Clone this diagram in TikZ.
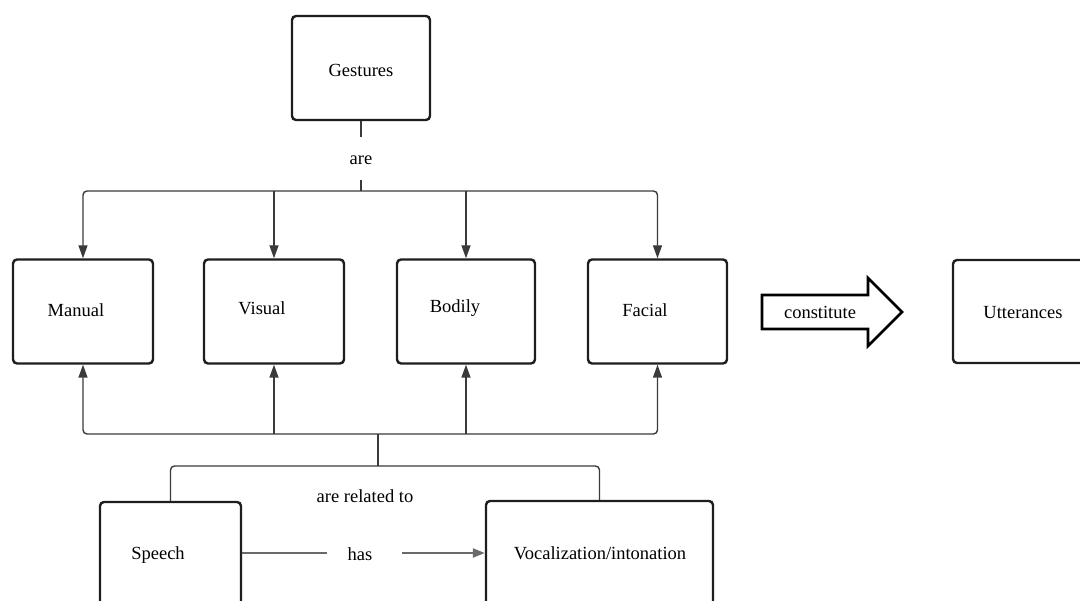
\documentclass[tikz,border=0pt]{standalone}
\usepackage{fontspec}
\setmainfont{Liberation Serif}
\usetikzlibrary{arrows.meta}
\definecolor{boxc}{HTML}{1E1E1E}
\definecolor{linec}{HTML}{3A3A3A}
\definecolor{hasc}{HTML}{6A6A6A}
\begin{document}
\begin{tikzpicture}[x=1pt,y=-1pt,
  box/.style={draw=boxc, line width=2.4pt, rounded corners=4pt, fill=white, inner sep=0pt},
  txt/.style={inner sep=0pt, font=\fontsize{18.5}{22}\selectfont, text=black},
  conn/.style={draw=linec, line width=1.4pt},
  tipend/.style={-{Triangle[length=13pt,width=9pt]}},
  tipboth/.style={{Triangle[length=13pt,width=9pt]}-{Triangle[length=13pt,width=9pt]}},
  hasline/.style={draw=hasc, line width=2.2pt},
  bigarrow/.style={draw=black, line width=2.6pt, fill=white, line join=miter}
]
\useasboundingbox (0,0) rectangle (1080,601);
\clip (0,0) rectangle (1080,601);

% boxes
\node[box, minimum width=138pt, minimum height=104pt] (gestures) at (361,68) {};
\node[box, minimum width=140pt, minimum height=104pt] (manual) at (83,311.5) {};
\node[box, minimum width=140pt, minimum height=104pt] (visual) at (274,311.5) {};
\node[box, minimum width=138pt, minimum height=104pt] (bodily) at (466,311.5) {};
\node[box, minimum width=139pt, minimum height=104pt] (facial) at (657.5,311.5) {};
\node[box, minimum width=147pt, minimum height=103pt] (utter) at (1026.5,311.5) {};
\node[box, minimum width=141pt, minimum height=138pt] (speech) at (170.5,571) {};
\node[box, minimum width=227pt, minimum height=139pt] (voc) at (599.5,570.5) {};

% texts
\node[txt] (gestures-t) at (361,70) {Gestures};
\node[txt] (manual-t) at (76,310) {Manual};
\node[txt] (visual-t) at (262,308) {Visual};
\node[txt] (bodily-t) at (455,308) {Bodily};
\node[txt] (facial-t) at (645,310) {Facial};
\node[txt] (utter-t) at (1023,313) {Utterances};
\node[txt] (speech-t) at (158,555) {Speech};
\node[txt] (voc-t) at (600,553) {Vocalization/intonation};
\node[txt] (are) at (361,160) {are};
\node[txt] (related) at (365,496) {are related to};
\node[txt] (has) at (360,554) {has};

% coordinates
\coordinate (are-top) at (361,137);
\coordinate (are-bot) at (361,180);
\coordinate (bus-top) at (361,191);
\coordinate (junc) at (378,434);
\coordinate (junc2) at (378,466);
\coordinate (has-a) at (327,553);
\coordinate (has-b) at (402,553);

% upper connectors
\draw[conn] (gestures.south) -- (are-top);
\draw[conn] (are-bot) -- (bus-top);
\draw[conn, rounded corners=4pt, tipboth] (manual.north) |- (bus-top) -| (facial.north);
\draw[conn, tipend] (visual.north |- bus-top) -- (visual.north);
\draw[conn, tipend] (bodily.north |- bus-top) -- (bodily.north);

% lower connectors
\draw[conn, rounded corners=4pt, tipboth] (manual.south) |- (junc) -| (facial.south);
\draw[conn, tipend] (visual.south |- junc) -- (visual.south);
\draw[conn, tipend] (bodily.south |- junc) -- (bodily.south);
\draw[conn] (junc) -- (junc2);
\draw[conn, rounded corners=4pt] (speech.north) |- (junc2) -| (voc.north);

% has
\draw[hasline] (speech.east |- has-a) -- (has-a);
\draw[hasline, -{Triangle[length=12pt,width=9pt]}] (has-b) -- (voc.west |- has-b);

% constitute block arrow
\draw[bigarrow] (762,295) -- (868,295) -- (868,278) -- (902,312) -- (868,346) -- (868,329) -- (762,329) -- cycle;
\node[txt] (constitute) at (820,312) {constitute};
\end{tikzpicture}
\end{document}
